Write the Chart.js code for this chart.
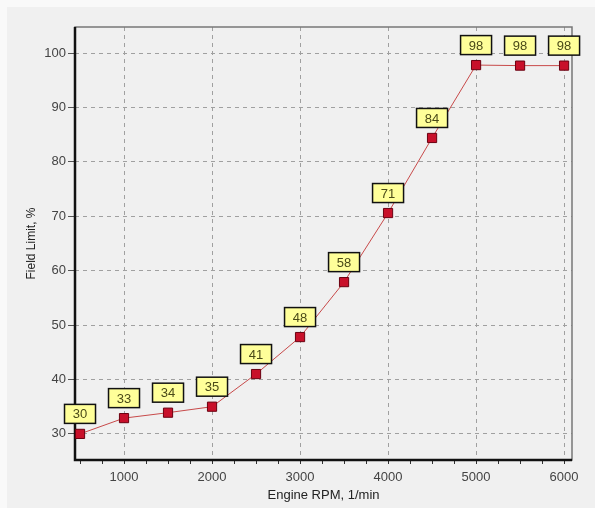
<!DOCTYPE html>
<html>
<head>
<meta charset="utf-8">
<script src="https://cdn.jsdelivr.net/npm/chart.js@4.4.1/dist/chart.umd.min.js"></script>
<style>
html,body{margin:0;padding:0;background:#f9f9f9;}
#wrap{position:absolute;left:0;top:0;width:595px;height:508px;}
</style>
</head>
<body>
<div id="wrap"><canvas id="c" width="595" height="508"></canvas></div>
<script>
const rpm = [500, 1000, 1500, 2000, 2500, 3000, 3500, 4000, 4500, 5000, 5500, 6000];
const fieldLimit = [30, 32.9, 33.9, 35.0, 41.0, 47.8, 57.9, 70.6, 84.4, 97.8, 97.7, 97.7];
const pointLabels = ['30', '33', '34', '35', '41', '48', '58', '71', '84', '98', '98', '98'];
const xTicks = [500, 750, 1000, 1250, 1500, 1750, 2000, 2250, 2500, 2750, 3000, 3250, 3500, 3750, 4000, 4250, 4500, 4750, 5000, 5250, 5500, 5750, 6000];
const xTickLabels = [1000, 2000, 3000, 4000, 5000, 6000];
const yTicks = [30, 40, 50, 60, 70, 80, 90, 100];

const panelPlugin = {
  id: 'panel',
  beforeDraw(chart) {
    const ctx = chart.ctx;
    ctx.save();
    ctx.fillStyle = '#f0f0f0';
    ctx.fillRect(7, 7, chart.width - 7, chart.height - 7);
    ctx.restore();
  },
  beforeDatasetsDraw(chart) {
    const a = chart.chartArea, ctx = chart.ctx;
    ctx.save();
    ctx.strokeStyle = '#777';
    ctx.lineWidth = 1.5;
    ctx.strokeRect(a.left, a.top, a.right - a.left, a.bottom - a.top);
    ctx.strokeStyle = '#111';
    ctx.lineWidth = 2.5;
    ctx.beginPath();
    ctx.moveTo(a.left, a.top);
    ctx.lineTo(a.left, a.bottom);
    ctx.lineTo(a.right, a.bottom);
    ctx.stroke();
    ctx.restore();
  },
  afterDatasetsDraw(chart) {
    const ctx = chart.ctx;
    const meta = chart.getDatasetMeta(0);
    ctx.save();
    ctx.font = '13px "Liberation Sans", Arial, sans-serif';
    ctx.textAlign = 'center';
    ctx.textBaseline = 'middle';
    meta.data.forEach((pt, i) => {
      const w = 31, h = 19;
      const cx = pt.x, cy = pt.y - 20;
      ctx.fillStyle = '#ffff99';
      ctx.fillRect(cx - w / 2, cy - h / 2, w, h);
      ctx.strokeStyle = '#111';
      ctx.lineWidth = 1.5;
      ctx.strokeRect(cx - w / 2, cy - h / 2, w, h);
      ctx.fillStyle = '#4a4a18';
      ctx.fillText(pointLabels[i], cx, cy + 1);
    });
    ctx.restore();
  }
};

new Chart(document.getElementById('c'), {
  type: 'line',
  data: {
    datasets: [{
      data: rpm.map((x, i) => ({ x: x, y: fieldLimit[i] })),
      borderColor: '#c84a4a',
      borderWidth: 1,
      pointStyle: 'rect',
      pointRadius: 6.5,
      pointBackgroundColor: '#c8102a',
      pointBorderColor: '#6a0010',
      pointBorderWidth: 1,
      tension: 0,
      clip: false
    }]
  },
  options: {
    responsive: false,
    animation: false,
    devicePixelRatio: 1,
    layout: { padding: { left: 0, right: 23, top: 27, bottom: 5 } },
    plugins: { legend: { display: false }, tooltip: { enabled: false } },
    scales: {
      x: {
        type: 'linear',
        min: 443,
        max: 6090,
        afterBuildTicks(s) { s.ticks = xTicks.map(v => ({ value: v })); },
        afterFit(s) { s.height = 43; },
        border: { display: false, dash: [4, 4] },
        grid: {
          color: c => (c.tick && xTickLabels.includes(c.tick.value)) ? '#a0a0a0' : 'rgba(0,0,0,0)',
          tickColor: '#333',
          tickLength: 4,
          lineWidth: 1,
          tickWidth: 1,
          tickBorderDash: []
        },
        ticks: {
          autoSkip: false,
          maxRotation: 0,
          padding: 6,
          color: '#444',
          font: { size: 13, family: '"Liberation Sans", Arial, sans-serif' },
          callback: v => xTickLabels.includes(v) ? String(v) : ''
        },
        title: {
          display: true,
          text: 'Engine RPM, 1/min',
          color: '#222',
          padding: { top: 0, bottom: 0 },
          font: { size: 13, family: '"Liberation Sans", Arial, sans-serif' }
        }
      },
      y: {
        type: 'linear',
        min: 25.2,
        max: 104.8,
        afterBuildTicks(s) { s.ticks = yTicks.map(v => ({ value: v })); },
        afterFit(s) { s.width = 75; },
        border: { display: false, dash: [4, 4] },
        grid: {
          color: '#a0a0a0',
          tickColor: '#555',
          tickLength: 7,
          lineWidth: 1,
          tickBorderDash: []
        },
        ticks: {
          padding: 2,
          color: '#444',
          font: { size: 13, family: '"Liberation Sans", Arial, sans-serif' }
        },
        title: {
          display: true,
          text: 'Field Limit, %',
          color: '#222',
          padding: { top: 24, bottom: 0 },
          font: { size: 12, family: '"Liberation Sans", Arial, sans-serif' }
        }
      }
    }
  },
  plugins: [panelPlugin]
});
</script>
</body>
</html>
